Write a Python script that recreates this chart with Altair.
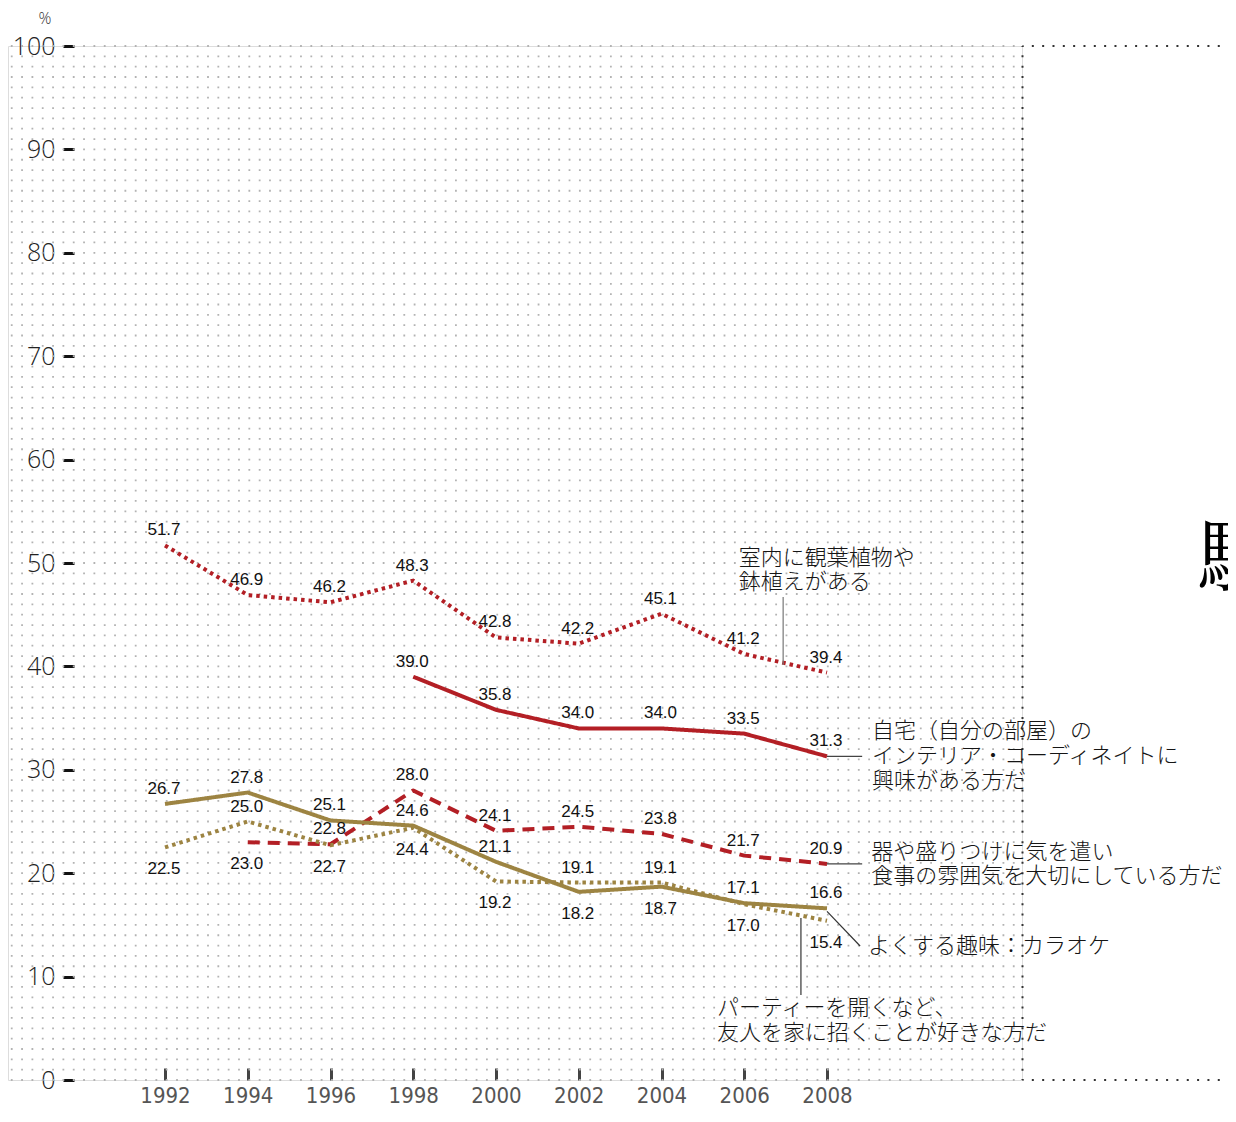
import altair as alt
import pandas as pd

# ---------------- data ----------------
years = [1992, 1994, 1996, 1998, 2000, 2002, 2004, 2006, 2008]

plants = [51.7, 46.9, 46.2, 48.3, 42.8, 42.2, 45.1, 41.2, 39.4]
interior = [None, None, None, 39.0, 35.8, 34.0, 34.0, 33.5, 31.3]
tableware = [None, 23.0, 22.8, 28.0, 24.1, 24.5, 23.8, 21.7, 20.9]
karaoke = [26.7, 27.8, 25.1, 24.6, 21.1, 18.2, 18.7, 17.1, 16.6]
party = [22.5, 25.0, 22.7, 24.4, 19.2, 19.1, 19.1, 17.0, 15.4]

# where each value label sits: a = above the line, b = below
side_plants = ["a"] * 9
side_interior = ["a"] * 9
side_tableware = ["a", "b", "a", "a", "a", "a", "a", "a", "a"]
side_karaoke = ["a", "a", "a", "a", "a", "b", "b", "a", "a"]
side_party = ["b", "a", "b", "b", "b", "a", "a", "b", "b"]

series_names = ["plants", "interior", "tableware", "karaoke", "party"]
series_values = [plants, interior, tableware, karaoke, party]
series_sides = [side_plants, side_interior, side_tableware, side_karaoke, side_party]

# annotation texts (lines) with anchor (year, value)
ann_text = [
    "室内に観葉植物や", "鉢植えがある",
    "自宅（自分の部屋）の", "インテリア・コーディネイトに", "興味がある方だ",
    "器や盛りつけに気を遣い", "食事の雰囲気を大切にしている方だ",
    "よくする趣味：カラオケ",
    "パーティーを開くなど、", "友人を家に招くことが好きな方だ",
]
ann_x = [2005.87, 2005.87,
         2009.09, 2009.09, 2009.09,
         2009.07, 2009.07,
         2008.99,
         2005.34, 2005.34]
ann_y = [50.48, 48.16,
         33.75, 31.33, 28.92,
         22.05, 19.73,
         12.96,
         6.96, 4.55]

# leader lines
lead_x = [2006.94, 2008.0, 2008.0, 2008.0, 2007.37]
lead_x2 = [2006.94, 2008.85, 2008.85, 2008.80, 2007.37]
lead_y = [46.71, 31.3, 20.9, 16.3, 15.67]
lead_y2 = [40.14, 31.3, 20.9, 12.96, 8.22]
lead_color = ["#777777", "#444444", "#444444", "#333333", "#333333"]

# ---------------- styles ----------------
RED = "#b31f25"
GOLD = "#9d8442"
styles = {
    "plants": dict(color=RED, strokeDash=[3.5, 4]),
    "interior": dict(color=RED, strokeDash=[1, 0]),
    "tableware": dict(color=RED, strokeDash=[12, 8]),
    "karaoke": dict(color=GOLD, strokeDash=[1, 0]),
    "party": dict(color=GOLD, strokeDash=[3.5, 4]),
}

XMIN, XMAX = 1988.2054, 2012.713
PLOT_W, PLOT_H = 1014, 1034
xscale = alt.Scale(domain=[XMIN, XMAX], nice=False, zero=False)
yscale = alt.Scale(domain=[0, 100], nice=False, zero=True)

xaxis = alt.Axis(values=years, format="d", offset=-12, domain=False, grid=False,
                 tickColor="#444444", tickWidth=3, tickSize=12,
                 labelFontSize=22, labelColor="#555555",
                 labelFont="Liberation Sans Narrow, DejaVu Sans Condensed, Open Sans",
                 labelBaseline="alphabetic", labelPadding=22, labelFlush=False,
                 title=None)
yaxis = alt.Axis(values=list(range(0, 101, 10)), offset=-66, domain=False, grid=False,
                 tickColor="#111111", tickWidth=3, tickSize=11,
                 labelFontSize=25, labelFont="Open Sans", labelFontWeight=300,
                 labelColor="#222222", labelPadding=8, title=None)


def X(field):
    return alt.X(field, scale=xscale, axis=xaxis, title=None)


def Y(field):
    return alt.Y(field, scale=yscale, axis=yaxis, title=None)


rows = []
for name, vals, sides in zip(series_names, series_values, series_sides):
    for yr, v, s in zip(years, vals, sides):
        if v is not None:
            rows.append({"series": name, "year": yr, "value": v,
                         "side": s, "label": f"{v:.1f}"})
df = pd.DataFrame(rows)

# ---------------- layers ----------------
grid_df = pd.DataFrame({"v": list(range(0, 101))})
grid = alt.Chart(grid_df).mark_rule(
    color="#b3b3b3", strokeWidth=1.8, strokeDash=[1.8, 8.53], strokeDashOffset=7.5
).encode(
    y=Y("v:Q"),
    x=alt.value(0),
    x2=alt.value(PLOT_W),
)

frame_v_df = pd.DataFrame({"x": [2012.725], "y": [100], "y2": [0]})
frame_v = alt.Chart(frame_v_df).mark_rule(
    color="#333333", strokeWidth=2, strokeDash=[2, 8.34], strokeDashOffset=1
).encode(
    x=X("x:Q"),
    y=Y("y:Q"),
    y2="y2:Q",
)
frame_h_df = pd.DataFrame({"x": [2012.725, 2012.725], "x2": [2018.0, 2018.0], "y": [100, 0]})
frame_h = alt.Chart(frame_h_df).mark_rule(
    color="#333333", strokeWidth=2, strokeDash=[2, 8.33], strokeDashOffset=1
).encode(
    x=X("x:Q"),
    x2="x2:Q",
    y=Y("y:Q"),
)

line_layers = []
for name in series_names:
    st = styles[name]
    line_layers.append(
        alt.Chart(df[df.series == name]).mark_line(
            color=st["color"], strokeWidth=4, strokeDash=st["strokeDash"],
            interpolate="linear", strokeCap="butt", strokeJoin="round"
        ).encode(
            x=X("year:Q"),
            y=Y("value:Q"),
        )
    )

lab_above = alt.Chart(df[df.side == "a"]).mark_text(
    font="Liberation Sans, Arial", fontSize=17, color="#111111", dy=-15, dx=-1
).encode(
    x=X("year:Q"),
    y=Y("value:Q"),
    text="label:N",
)
lab_below = alt.Chart(df[df.side == "b"]).mark_text(
    font="Liberation Sans, Arial", fontSize=17, color="#111111", dy=22, dx=-1
).encode(
    x=X("year:Q"),
    y=Y("value:Q"),
    text="label:N",
)

lead_df = pd.DataFrame({"x": lead_x, "x2": lead_x2, "y": lead_y, "y2": lead_y2, "c": lead_color})
leaders = alt.Chart(lead_df).mark_rule(strokeWidth=1.2).encode(
    x=X("x:Q"),
    x2="x2:Q",
    y=Y("y:Q"),
    y2="y2:Q",
    color=alt.Color("c:N", scale=None),
)

ann_df = pd.DataFrame({"t": ann_text, "x": ann_x, "y": ann_y})
ann = alt.Chart(ann_df).mark_text(
    align="left", baseline="middle", font="Noto Sans CJK JP", fontSize=22,
    fontWeight=300, color="#151515"
).encode(
    x=X("x:Q"),
    y=Y("y:Q"),
    text="t:N",
)

pct_df = pd.DataFrame({"t": ["%"], "x": [1989.1], "y": [102.6]})
pct = alt.Chart(pct_df).mark_text(
    align="center", baseline="middle", font="Open Sans", fontSize=16,
    fontWeight=300, color="#333333"
).encode(
    x=X("x:Q"),
    y=Y("y:Q"),
    text="t:N",
)

glyph_df = pd.DataFrame({"t": ["駄"], "x": [2016.95], "y": [50.0]})
glyph = alt.Chart(glyph_df).mark_text(
    align="left", baseline="middle", font="Noto Serif CJK JP, serif", fontSize=84,
    color="#000000"
).encode(
    x=X("x:Q"),
    y=Y("y:Q"),
    text="t:N",
)

chart = alt.layer(
    grid, frame_v, frame_h, *line_layers, lab_above, lab_below, leaders, ann, pct, glyph
).properties(
    width=PLOT_W, height=PLOT_H,
    autosize=alt.AutoSizeParams(type="none"),
    padding={"left": 0, "top": 38, "right": 206, "bottom": 28},
).configure_view(stroke=None).configure(background="white")

chart.save("out.html", embed_options={"renderer": "svg", "actions": False})
